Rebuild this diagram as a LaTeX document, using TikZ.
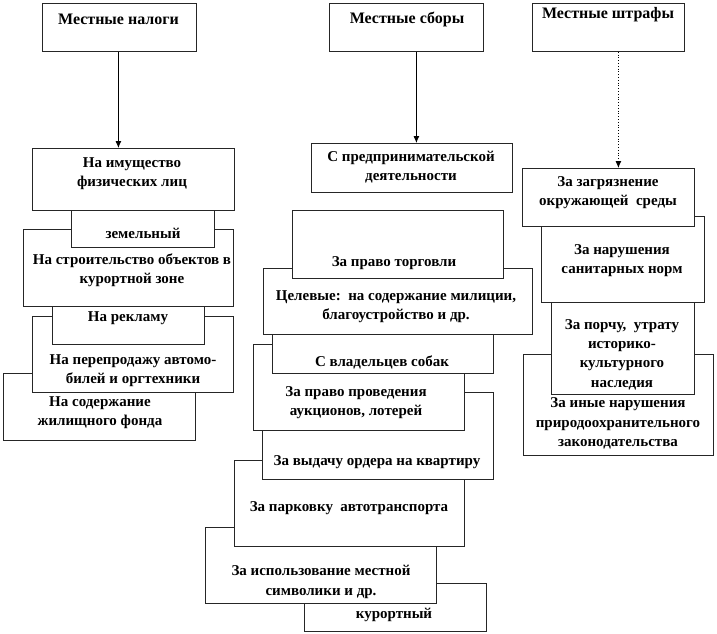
\documentclass[tikz,border=0pt]{standalone}
\usepackage{fontspec}
\setmainfont{Liberation Serif}
\usetikzlibrary{arrows.meta}
\begin{document}
\begin{tikzpicture}[x=1pt,y=-1pt,
    box/.style={draw=black!85, fill=white, line width=0.8pt, inner sep=0pt, anchor=north west},
    txt/.style={align=center, inner sep=0pt, font=\fontsize{15}{19.3}\selectfont\bfseries},
    head/.style={txt, font=\fontsize{16}{19.3}\selectfont\bfseries},
    arr/.style={-{Latex[length=7pt,width=6pt]}, line width=0.8pt}]
    \useasboundingbox (0,0) rectangle (717,634);
    
    % Left column: Local taxes
    \node[box, minimum width=192pt, minimum height=67pt] (zhil) at (3,373) {};
    \node[txt] (zhilT) at (100,413) {На содержание\\жилищного фонда};
    
    \node[box, minimum width=201pt, minimum height=76pt] (pereprod) at (32,316) {};
    \node[txt] (pereprodT) at (133,370.5) {На перепродажу автомо-\\билей и оргтехники};
    
    \node[box, minimum width=152pt, minimum height=49pt] (reklama) at (52,295) {};
    \node[txt] (reklamaT) at (128,318) {На рекламу};
    
    \node[box, minimum width=210pt, minimum height=77pt] (stroit) at (23,229) {};
    \node[txt] (stroitT) at (132,270) {На строительство объектов в\\курортной зоне};
    
    \node[box, minimum width=143pt, minimum height=47pt] (zem) at (71,200) {};
    \node[txt] (zemT) at (143,233) {земельный};
    
    \node[box, minimum width=202pt, minimum height=62pt] (imush) at (32,148) {};
    \node[txt] (imushT) at (132,173.5) {На имущество\\физических лиц};
    
    \node[box, minimum width=154pt, minimum height=48pt] (nalogi) at (42,3) {};
    \node[head] (nalogiT) at (118.5,19) {Местные налоги};
    
    % Middle column: Local fees
    \node[box, minimum width=182pt, minimum height=48pt] (kurort) at (304,583) {};
    \node[txt] (kurortT) at (394,615) {курортный};
    
    \node[box, minimum width=231pt, minimum height=76pt] (simvol) at (205,527) {};
    \node[txt] (simvolT) at (321,582) {За использование местной\\символики и др.};
    
    \node[box, minimum width=230pt, minimum height=86pt] (parkov) at (234,460) {};
    \node[txt] (parkovT) at (349,508) {За парковку\ \ автотранспорта};
    
    \node[box, minimum width=231pt, minimum height=87pt] (order) at (262,392) {};
    \node[txt] (orderT) at (377,462) {За выдачу ордера на квартиру};
    
    \node[box, minimum width=211pt, minimum height=86pt] (auktsion) at (253,344) {};
    \node[txt] (auktsionT) at (356,402.5) {За право проведения\\аукционов, лотерей};
    
    \node[box, minimum width=221pt, minimum height=48pt] (sobaki) at (272,325) {};
    \node[txt] (sobakiT) at (382,362) {С владельцев собак};
    
    \node[box, minimum width=269pt, minimum height=66pt] (tselevye) at (263,268) {};
    \node[txt] (tselevyeT) at (396,307) {Целевые:\ \ на содержание милиции,\\благоустройство и др.};
    
    \node[box, minimum width=211pt, minimum height=68pt] (torgovlya) at (292,210) {};
    \node[txt] (torgovlyaT) at (394,263) {За право торговли};
    
    \node[box, minimum width=201pt, minimum height=49pt] (predpr) at (311,143) {};
    \node[txt] (predprT) at (411,167) {С предпринимательской\\деятельности};
    
    \node[box, minimum width=154pt, minimum height=48pt] (sbory) at (329,3) {};
    \node[head] (sboryT) at (407,19) {Местные сборы};
    
    % Right column: Local fines
    \node[box, minimum width=190pt, minimum height=101pt] (inye) at (523,354) {};
    \node[txt] (inyeT) at (618,423.5) {За иные нарушения\\природоохранительного\\законодательства};
    
    \node[box, minimum width=143pt, minimum height=104pt] (porcha) at (551,290) {};
    \node[txt] (porchaT) at (622,354.5) {За порчу,\ \ утрату\\историко-\\культурного\\наследия};
    
    \node[box, minimum width=163pt, minimum height=86pt] (sanit) at (541,216) {};
    \node[txt] (sanitT) at (622,260.5) {За нарушения\\санитарных норм};
    
    \node[box, minimum width=172pt, minimum height=58pt] (zagr) at (522,168) {};
    \node[txt] (zagrT) at (608,193) {За загрязнение\\окружающей\ \ среды};
    
    \node[box, minimum width=152pt, minimum height=48pt] (shtrafy) at (532,3) {};
    \node[head] (shtrafyT) at (608,15) {Местные штрафы};
    
    % Arrows from the headings
    \draw[arr] ([xshift=-1pt]nalogi.south) -- ([xshift=-1pt]nalogi.south |- imush.north);
    \draw[arr] ([xshift=10pt]sbory.south) -- ([xshift=10pt]sbory.south |- predpr.north);
    \draw[arr, dotted] ([xshift=10pt]shtrafy.south) -- ([xshift=10pt]shtrafy.south |- zagr.north);
\end{tikzpicture}
\end{document}
